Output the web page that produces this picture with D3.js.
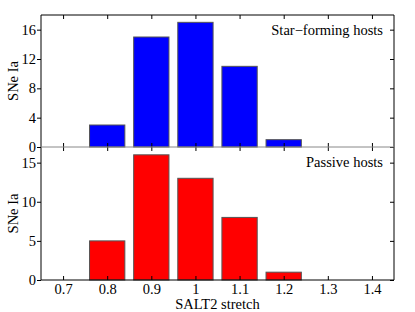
<!DOCTYPE html>
<html>
<head>
<meta charset="utf-8">
<script src="https://cdn.jsdelivr.net/npm/d3@7"></script>
<style>
  body { margin: 0; background: #fff; }
  text { font-family: "Liberation Serif", "DejaVu Serif", serif; fill: #000; }
</style>
</head>
<body>
<div id="plot"></div>
<script>
var width = 415;
var height = 312;

// data
var stretch = [0.8, 0.9, 1.0, 1.1, 1.2];
var starForming = [3, 15, 17, 11, 1];
var passive = [5, 16, 13, 8, 1];
var xTicks = [0.7, 0.8, 0.9, 1, 1.1, 1.2, 1.3, 1.4];
var topTicks = [0, 4, 8, 12, 16];
var bottomTicks = [0, 5, 10, 15];

var plotLeft = 41, plotRight = 394, plotTop = 15, plotMid = 147, plotBottom = 280;
var bin = 0.08;
var fontSize = 14.5;

var canvas = d3.select('#plot')
    .append('svg')
    .attr('width', width)
    .attr('height', height);

var x_scale = d3.scaleLinear()
    .domain([0.65, 1.45])
    .range([plotLeft, plotRight]);

function panel(values, color, y0, y1, ymax, ticks, label) {
    var y_scale = d3.scaleLinear()
        .domain([0, ymax])
        .range([y1, y0]);

    // bars
    canvas.append('g').selectAll('rect')
        .data(values)
        .enter()
        .append('rect')
        .attr('x', function(d, i) { return x_scale(stretch[i] - bin / 2); })
        .attr('width', function(d, i) { return x_scale(stretch[i] + bin / 2) - x_scale(stretch[i] - bin / 2); })
        .attr('y', function(d) { return y_scale(d); })
        .attr('height', function(d) { return y_scale(0) - y_scale(d); })
        .attr('fill', color)
        .attr('stroke', '#555')
        .attr('stroke-width', 1);

    // left axis, ticks outward
    var gl = canvas.append('g')
        .attr('transform', 'translate(' + plotLeft + ',0)')
        .call(d3.axisLeft(y_scale).tickValues(ticks).tickSize(4).tickPadding(1).tickFormat(d3.format('d')));
    gl.select('.domain').remove();
    gl.selectAll('text').attr('font-size', fontSize).attr('font-family', '"Liberation Serif", serif');
    gl.selectAll('line').attr('stroke', '#000');

    // right axis, ticks inward
    var gr = canvas.append('g')
        .attr('transform', 'translate(' + plotRight + ',0)')
        .call(d3.axisLeft(y_scale).tickValues(ticks).tickSize(4).tickFormat(''));
    gr.select('.domain').remove();
    gr.selectAll('line').attr('stroke', '#000');

    // x ticks, inward from bottom and top
    var gb = canvas.append('g')
        .attr('transform', 'translate(0,' + y1 + ')')
        .call(d3.axisTop(x_scale).tickValues(xTicks).tickSize(4).tickFormat(''));
    gb.select('.domain').remove();
    gb.selectAll('line').attr('stroke', '#000');
    var gt = canvas.append('g')
        .attr('transform', 'translate(0,' + y0 + ')')
        .call(d3.axisBottom(x_scale).tickValues(xTicks).tickSize(4).tickFormat(''));
    gt.select('.domain').remove();
    gt.selectAll('line').attr('stroke', '#000');

    // y label
    canvas.append('text')
        .attr('transform', 'translate(' + 18 + ',' + ((y0 + y1) / 2) + ') rotate(-90)')
        .attr('text-anchor', 'middle')
        .attr('font-size', fontSize)
        .text('SNe Ia');

    // panel annotation
    canvas.append('text')
        .attr('x', plotRight - 11)
        .attr('y', y0 + 20)
        .attr('text-anchor', 'end')
        .attr('font-size', fontSize)
        .text(label);
}

panel(starForming, '#0000ff', plotTop, plotMid, 18, topTicks, 'Star\u2212forming hosts');
panel(passive, '#ff0000', plotMid, plotBottom, 17, bottomTicks, 'Passive hosts');

// frame
canvas.append('path')
    .attr('d', 'M' + plotLeft + ',' + plotTop + 'H' + plotRight + 'V' + plotBottom + 'H' + plotLeft + 'Z')
    .attr('fill', 'none')
    .attr('stroke', '#000')
    .attr('stroke-width', 1);
canvas.append('line')
    .attr('x1', plotLeft).attr('x2', plotRight)
    .attr('y1', plotMid).attr('y2', plotMid)
    .attr('stroke', '#888')
    .attr('stroke-width', 1);

// x tick labels
var gx = canvas.append('g')
    .attr('transform', 'translate(0,' + plotBottom + ')')
    .call(d3.axisBottom(x_scale).tickValues(xTicks).tickSize(0).tickPadding(4)
        .tickFormat(function(d) { return String(d); }));
gx.select('.domain').remove();
gx.selectAll('text').attr('font-size', fontSize).attr('font-family', '"Liberation Serif", serif');

canvas.append('text')
    .attr('x', (plotLeft + plotRight) / 2)
    .attr('y', 309)
    .attr('text-anchor', 'middle')
    .attr('font-size', fontSize)
    .text('SALT2 stretch');
</script>
</body>
</html>
